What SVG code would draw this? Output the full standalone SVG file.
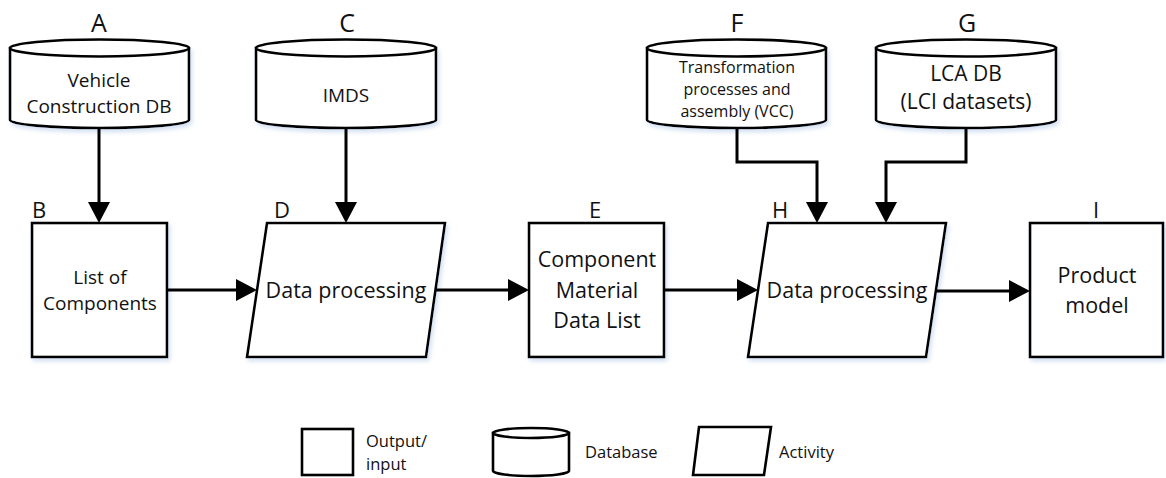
<svg xmlns="http://www.w3.org/2000/svg" width="1166" height="478" viewBox="0 0 1166 478">
<style>
  .shape { fill: #ffffff; stroke: #000000; stroke-width: 2.6; stroke-linejoin: miter; }
  .conn { fill: none; stroke: #000000; stroke-width: 3; }
  text { font-family: "Open Sans", "Liberation Sans", sans-serif; fill: #111111; text-anchor: middle; }
  .lbl { font-size: 22px; }
  .top { font-size: 25px; }
  .db { font-size: 19px; }
  .dbs { font-size: 16px; }
  .dbl { font-size: 21px; }
  .box { font-size: 19px; }
  .boxl { font-size: 21.5px; }
  .leg { font-size: 16.5px; text-anchor: start; }
  .start { text-anchor: start; }
</style>
<defs>
  <filter id="sh" x="-10%" y="-10%" width="130%" height="130%">
    <feDropShadow dx="2" dy="3" stdDeviation="2" flood-color="#9fbbe0" flood-opacity="0.45"/>
  </filter>
  <marker id="ah" markerUnits="userSpaceOnUse" markerWidth="22" markerHeight="22" refX="0" refY="11" orient="auto">
    <path d="M0,0 L21,11 L0,22 Z" fill="#000000"/>
  </marker>
</defs>
<rect width="1166" height="478" fill="#ffffff"/>

<g id="nodeA">
  <path class="shape" filter="url(#sh)" d="M10,48 V120 A89.5,8 0 0 0 189,120 V48 Z"/>
  <ellipse class="shape" cx="99.5" cy="48" rx="89.5" ry="8.5"/>
  <text class="top" x="99" y="32">A</text>
  <text class="db" x="99" y="87">Vehicle</text>
  <text class="db" x="99" y="113">Construction DB</text>
</g>

<g id="nodeC">
  <path class="shape" filter="url(#sh)" d="M256,48 V120 A90,8 0 0 0 436,120 V48 Z"/>
  <ellipse class="shape" cx="346" cy="48" rx="90" ry="8.5"/>
  <text class="top" x="347" y="32">C</text>
  <text class="db" x="346" y="102">IMDS</text>
</g>

<g id="nodeF">
  <path class="shape" filter="url(#sh)" d="M647,48 V120 A89.5,8 0 0 0 826,120 V48 Z"/>
  <ellipse class="shape" cx="736.5" cy="48" rx="89.5" ry="8.5"/>
  <text class="top" x="737" y="32">F</text>
  <text class="dbs" x="737" y="73">Transformation</text>
  <text class="dbs" x="737" y="95">processes and</text>
  <text class="dbs" x="737" y="117">assembly (VCC)</text>
</g>

<g id="nodeG">
  <path class="shape" filter="url(#sh)" d="M876,48 V120 A90,8 0 0 0 1056,120 V48 Z"/>
  <ellipse class="shape" cx="966" cy="48" rx="90" ry="8.5"/>
  <text class="top" x="967" y="32">G</text>
  <text class="dbl" x="966" y="81">LCA DB</text>
  <text class="dbl" x="966" y="109">(LCI datasets)</text>
</g>

<g id="nodeB">
  <rect class="shape" filter="url(#sh)" x="32" y="223" width="135" height="134"/>
  <text class="lbl start" x="32" y="218">B</text>
  <text class="box" x="100" y="284">List of</text>
  <text class="box" x="100" y="310">Components</text>
</g>

<g id="nodeD">
  <polygon class="shape" filter="url(#sh)" points="267,223 445,223 426,357 247,357"/>
  <text class="lbl start" x="274" y="218">D</text>
  <text class="boxl" x="346" y="298">Data processing</text>
</g>

<g id="nodeE">
  <rect class="shape" filter="url(#sh)" x="529" y="223" width="135" height="134"/>
  <text class="lbl" x="595" y="218">E</text>
  <text class="boxl" x="597" y="267">Component</text>
  <text class="boxl" x="597" y="298">Material</text>
  <text class="boxl" x="597" y="328">Data List</text>
</g>

<g id="nodeH">
  <polygon class="shape" filter="url(#sh)" points="768,223 946,223 926,357 748,357"/>
  <text class="lbl start" x="772" y="218">H</text>
  <text class="boxl" x="847" y="298">Data processing</text>
</g>

<g id="nodeI">
  <rect class="shape" filter="url(#sh)" x="1030" y="223" width="133" height="134"/>
  <text class="lbl" x="1096" y="218">I</text>
  <text class="boxl" x="1097" y="283">Product</text>
  <text class="boxl" x="1097" y="313">model</text>
</g>

<g id="connectors">
  <path class="conn" marker-end="url(#ah)" d="M99,128 V202"/>
  <path class="conn" marker-end="url(#ah)" d="M346,128 V202"/>
  <path class="conn" marker-end="url(#ah)" d="M737,128 V162 H817 V202"/>
  <path class="conn" marker-end="url(#ah)" d="M966,128 V162 H886 V202"/>
  <path class="conn" marker-end="url(#ah)" d="M167,290 H236"/>
  <path class="conn" marker-end="url(#ah)" d="M435,290 H508"/>
  <path class="conn" marker-end="url(#ah)" d="M664,290 H737"/>
  <path class="conn" marker-end="url(#ah)" d="M936,291 H1009"/>
</g>

<g id="legend">
  <rect class="shape" x="302" y="429" width="51" height="46"/>
  <text class="leg" x="366" y="447">Output/</text>
  <text class="leg" x="366" y="470">input</text>
  <path class="shape" d="M493,433 V471 A38,5 0 0 0 569,471 V433 Z"/>
  <ellipse class="shape" cx="531" cy="433" rx="38" ry="5"/>
  <text class="leg" x="585" y="458">Database</text>
  <polygon class="shape" points="699,427 771,427 764,475 693,475"/>
  <text class="leg" x="779" y="458">Activity</text>
</g>
</svg>
